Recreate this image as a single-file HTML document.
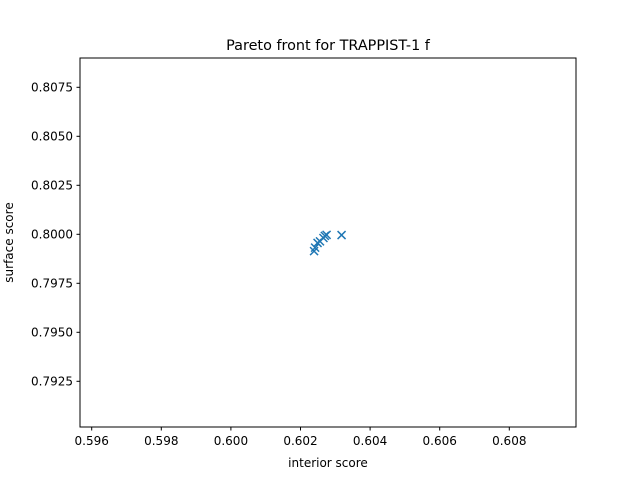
<!DOCTYPE html>
<html><head><meta charset="utf-8"><style>
body{margin:0;background:#fff;font-family:"DejaVu Sans","Liberation Sans",sans-serif;}
svg text{font-family:"DejaVu Sans","Liberation Sans",sans-serif;}
</style></head><body>
<svg id="chart" width="640" height="480">
<rect x="0" y="0" width="640" height="480" fill="#fff"/>
<text x="328" y="50" text-anchor="middle" font-size="14.4">Pareto front for TRAPPIST-1 f</text>
<g id="marks"></g>
<g id="axes"></g>
<rect x="80" y="58" width="496" height="369" fill="none" stroke="#000" stroke-width="1"/>
<text x="328" y="467" text-anchor="middle" font-size="12">interior score</text>
<text transform="translate(13,242.5) rotate(-90)" text-anchor="middle" font-size="12">surface score</text>
</svg>
<script>
const interiorScores=[0.60239,0.60242,0.60249,0.60256,0.60266,0.60275,0.60270,0.60318];
const surfaceScores=[0.79914,0.79932,0.79956,0.79964,0.79981,0.79997,0.79992,0.79996];
const xTicks=[0.596,0.598,0.600,0.602,0.604,0.606,0.608];
const yTicks=[0.7925,0.7950,0.7975,0.8000,0.8025,0.8050,0.8075];
const NS='http://www.w3.org/2000/svg';
function xs(v){return 230.9+(v-0.600)*34800;}
function ys(v){return 234.3-(v-0.800)*19600;}
const axes=document.getElementById('axes');
const marks=document.getElementById('marks');
function mk(t,a,p){const e=document.createElementNS(NS,t);for(const k in a)e.setAttribute(k,a[k]);p.appendChild(e);return e;}
xTicks.forEach(v=>{
  const x=xs(v);
  const l=mk('line',{x1:x,x2:x,y1:427,y2:430.5,stroke:'#000'},axes);
  
  
  const t=mk('text',{x:x,y:445,'text-anchor':'middle','font-size':'12'},axes);
  t.textContent=v.toFixed(3);
  
  
});
yTicks.forEach(v=>{
  const y=ys(v);
  const l=mk('line',{x1:76.5,x2:80,y1:y,y2:y,stroke:'#000'},axes);
  
  
  const t=mk('text',{x:73,y:y+4.3,'text-anchor':'end','font-size':'12'},axes);
  t.textContent=v.toFixed(4);
  
  
});
interiorScores.forEach((v,i)=>{
  const x=xs(v),y=ys(surfaceScores[i]),d=4;
  const p=mk('path',{d:`M${x-d},${y-d}L${x+d},${y+d}M${x-d},${y+d}L${x+d},${y-d}`,stroke:'#1f77b4','stroke-width':'1.5',fill:'none'},marks);
  
  
});
</script>
</body></html>
